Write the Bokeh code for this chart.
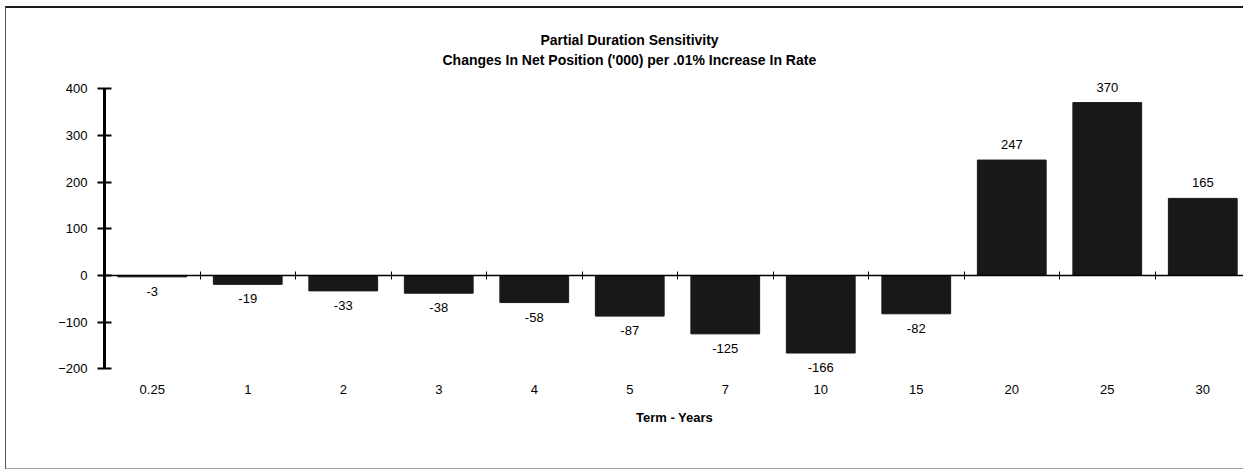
from bokeh.plotting import figure
from bokeh.models import LinearAxis, FixedTicker, Range1d, Title, ColumnDataSource
from bokeh.core.properties import value
from bokeh.embed import file_html
from bokeh.resources import INLINE

# ---- data ----
terms = ["0.25", "1", "2", "3", "4", "5", "7", "10", "15", "20", "25", "30"]
values = [-3, -19, -33, -38, -58, -87, -125, -166, -82, 247, 370, 165]
y_ticks = [-200, -100, 0, 100, 200, 300, 400]
title1 = "Partial Duration Sensitivity"
title2 = "Changes In Net Position ('000) per .01% Increase In Rate"
x_label = "Term - Years"

FONT = "Liberation Sans"
BAR = "#181818"

n = len(terms)
centers = [i + 0.5 for i in range(n)]
bounds_x = [i for i in range(1, n)]

src = ColumnDataSource(dict(x=centers, top=values))
pos = ColumnDataSource(dict(
    x=[c for c, v in zip(centers, values) if v >= 0],
    y=[v for v in values if v >= 0],
    lbl=[str(v) for v in values if v >= 0],
))
neg = ColumnDataSource(dict(
    x=[c for c, v in zip(centers, values) if v < 0],
    y=[v for v in values if v < 0],
    lbl=[str(v) for v in values if v < 0],
))

p = figure(width=1238, height=463, output_backend="svg", toolbar_location=None,
           x_range=Range1d(0, 11.937), y_range=Range1d(-207.7, 443),
           x_axis_type=None, y_axis_type=None,
           min_border_left=98, min_border_right=0, min_border_top=60,
           min_border_bottom=99, background_fill_color="white",
           border_fill_color="white", outline_line_color=None)
p.styles = {"border-top": "2px solid #1a1a1a", "border-left": "1px solid #555555",
            "border-bottom": "1px solid #a0a0a0",
            "margin-left": "5px", "margin-top": "6px"}
p.xgrid.visible = False
p.ygrid.visible = False

# titles (added nearest-to-frame first)
t2 = Title(text=title2, align="left", offset=338, standoff=1,
           text_font=FONT, text_font_size="14px", text_font_style="bold",
           text_color="#000000")
t1 = Title(text=title1, align="left", offset=436, standoff=4,
           text_font=FONT, text_font_size="14px", text_font_style="bold",
           text_color="#000000")
p.add_layout(t2, "above")
p.add_layout(t1, "above")

# bars
p.vbar(x="x", top="top", bottom=0, width=0.72, source=src,
       fill_color=BAR, line_color=BAR, line_width=1)

# value labels
p.text(x="x", y="y", text="lbl", source=pos, text_align="center",
       text_baseline="bottom", y_offset=-11, text_font=value(FONT),
       text_font_size="13px", text_color="#000000")
p.text(x="x", y="y", text="lbl", source=neg, text_align="center",
       text_baseline="top", y_offset=10, text_font=value(FONT),
       text_font_size="13px", text_color="#000000")

# y axis
yax = LinearAxis(ticker=FixedTicker(ticks=y_ticks), bounds=(-200, 400),
                 axis_line_width=3, axis_line_color="#000000",
                 major_tick_line_width=2, major_tick_line_color="#000000",
                 major_tick_in=7, major_tick_out=7,
                 minor_tick_in=0, minor_tick_out=0,
                 major_label_standoff=10,
                 major_label_text_font=FONT, major_label_text_font_size="13px",
                 major_label_text_color="#000000")
p.add_layout(yax, "left")

# x axis (labels only) at bottom
xax = LinearAxis(ticker=FixedTicker(ticks=centers),
                 major_label_overrides={c: t for c, t in zip(centers, terms)},
                 axis_line_color=None, major_tick_line_color=None,
                 minor_tick_line_color=None,
                 major_label_standoff=6,
                 major_label_text_font=FONT, major_label_text_font_size="13px",
                 major_label_text_color="#000000",
                 axis_label=x_label, axis_label_standoff=13,
                 axis_label_text_font=FONT, axis_label_text_font_size="13px",
                 axis_label_text_font_style="bold",
                 axis_label_text_color="#000000")
p.add_layout(xax, "below")

# baseline axis at y = 0 with category boundary ticks
base = LinearAxis(fixed_location=0, ticker=FixedTicker(ticks=bounds_x),
                  axis_line_width=1.5, axis_line_color="#000000",
                  major_tick_in=4, major_tick_out=4,
                  major_tick_line_color="#000000", major_tick_line_width=1,
                  minor_tick_in=0, minor_tick_out=0,
                  major_label_text_color=None)
p.add_layout(base, "below")

open("out.html", "w").write(file_html(p, INLINE))
